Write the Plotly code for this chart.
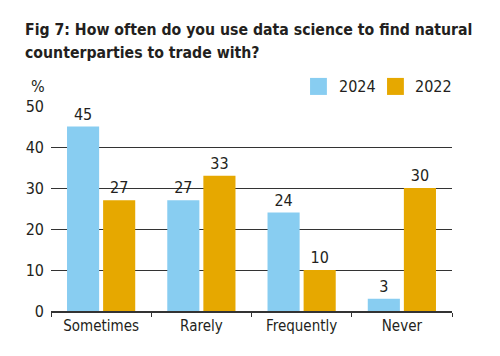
import plotly.graph_objects as go

categories = ["Sometimes", "Rarely", "Frequently", "Never"]
values_2024 = [45, 27, 24, 3]
values_2022 = [27, 33, 10, 30]
series_names = ["2024", "2022"]
y_ticks = [0, 10, 20, 30, 40, 50]
title_lines = ["Fig 7: How often do you use data science to find natural",
               "counterparties to trade with?"]

FONT = "DejaVu Sans Condensed, Liberation Sans Narrow, sans-serif"
TXT = "#231f20"
BLUE = "#88cdf1"
ORANGE = "#e6a800"
colors = [BLUE, ORANGE]

fig = go.Figure()
for name, vals, col in zip(series_names, [values_2024, values_2022], colors):
    fig.add_trace(go.Bar(
        x=categories, y=vals, name=name, marker=dict(color=col, line=dict(width=0)),
        text=[str(v) for v in vals], textposition="outside",
        textfont=dict(family=FONT, size=16, color=TXT), cliponaxis=False,
        showlegend=False,
    ))

fig.update_layout(
    width=500, height=356,
    margin=dict(l=51, r=48, t=106, b=45, autoexpand=False),
    paper_bgcolor="white", plot_bgcolor="white",
    barmode="group", bargap=0.28, bargroupgap=0.11,
    font=dict(family=FONT, size=16, color=TXT),
)
fig.update_xaxes(
    showgrid=False, showline=True, linecolor="#333333", linewidth=1.5,
    ticks="outside", tickson="boundaries", ticklen=4, tickcolor="#333333",
    tickfont=dict(family=FONT, size=15, color=TXT), fixedrange=True, automargin=False,
)
fig.update_yaxes(
    range=[0, 50], tickvals=y_ticks, showgrid=True, gridcolor="#333333", gridwidth=1.3,
    zeroline=False, showline=False, ticks="", ticklabelstandoff=6,
    tickfont=dict(family=FONT, size=16, color=TXT), fixedrange=True, automargin=False,
)

# title, two lines
for line, yy in zip(title_lines, [1.375, 1.262]):
    fig.add_annotation(text=line, xref="paper", yref="paper", x=-0.0698, y=yy,
                       xanchor="left", yanchor="middle", showarrow=False,
                       font=dict(family=FONT, size=15.7, color=TXT, weight="bold"))

# legend drawn as swatches + labels above the plot
legend_pos = [(0.646, 0.713), (0.838, 0.903)]
for (sx, tx), name, col in zip(legend_pos, series_names, colors):
    fig.add_shape(type="rect", xref="paper", yref="paper", x0=sx, x1=sx + 0.042,
                  y0=1.054, y1=1.137, fillcolor=col, line=dict(width=0))
    fig.add_annotation(text=name, xref="paper", yref="paper", x=tx, y=1.095,
                       xanchor="left", yanchor="middle", showarrow=False,
                       font=dict(family=FONT, size=16, color=TXT))

fig.add_annotation(text="%", xref="paper", yref="paper", x=-0.032, y=1.095,
                   xanchor="center", yanchor="middle", showarrow=False,
                   font=dict(family=FONT, size=16, color=TXT))

fig.write_html("out.html", config={"displayModeBar": False},
               post_script="document.body.style.margin='0';")
